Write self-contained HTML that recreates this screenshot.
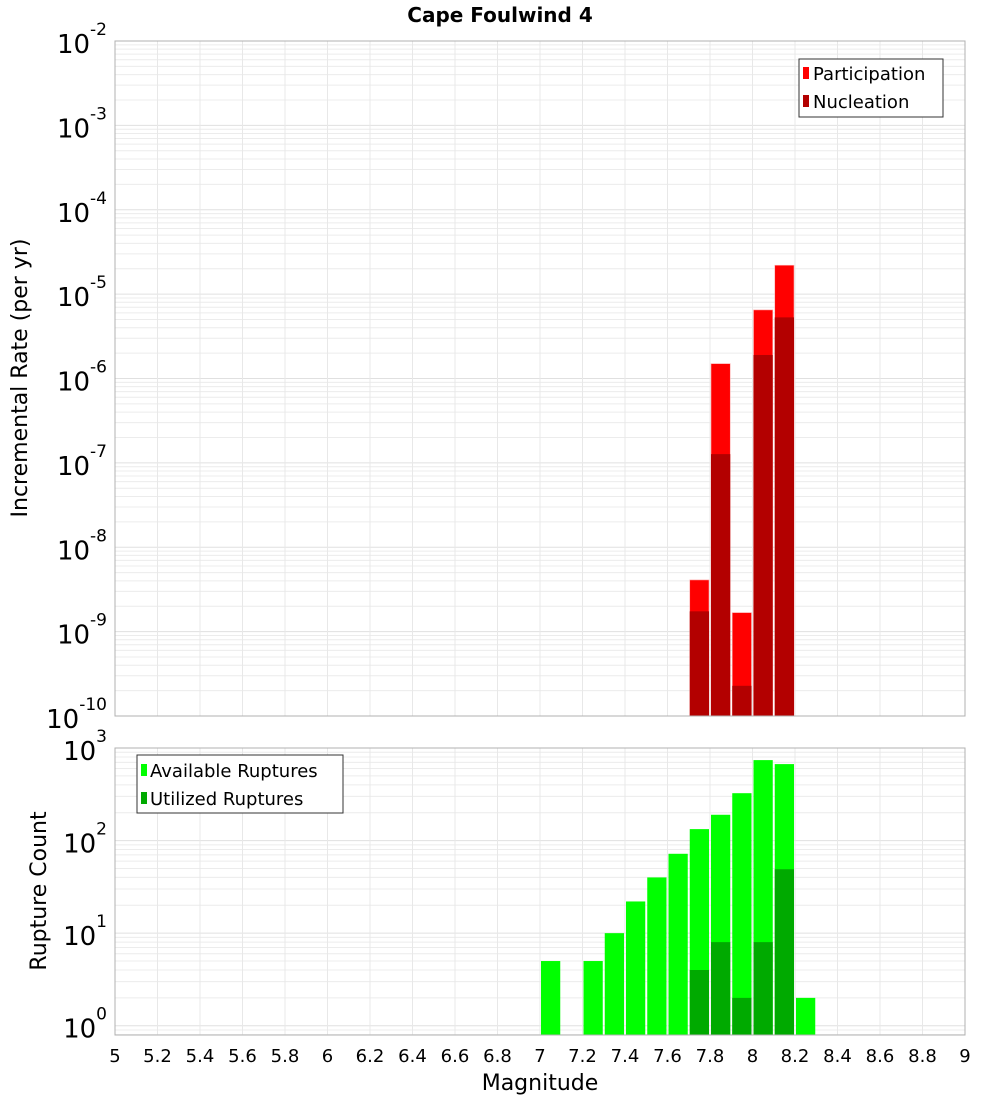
<!DOCTYPE html>
<html><head><meta charset="utf-8"><style>
body{margin:0;background:#fff;font-family:"DejaVu Sans","Liberation Sans",sans-serif;}
svg text{font-family:"DejaVu Sans","Liberation Sans",sans-serif;}
</style></head><body>
<svg id="chart" width="1000" height="1100" xmlns="http://www.w3.org/2000/svg">
<rect width="1000" height="1100" fill="#fff"/>
<text x="500" y="22" text-anchor="middle" font-weight="bold" font-size="20">Cape Foulwind 4</text>
<g id="top"></g><g id="bot"></g>
</svg>
<script>
const bins=[7.7,7.8,7.9,8.0,8.1];
const participation=[4.1e-9,1.5e-6,1.68e-9,6.5e-6,2.2e-5];
const nucleation=[1.74e-9,1.27e-7,2.28e-10,1.9e-6,5.3e-6];
const countBins=[7.0,7.2,7.3,7.4,7.5,7.6,7.7,7.8,7.9,8.0,8.1,8.2];
const available=[5,5,10,22,40,72,133,190,325,740,670,2];
const utilBins=[7.7,7.8,7.9,8.0,8.1];
const utilized=[4,8,2,8,49];
const xTicks=[5,5.2,5.4,5.6,5.8,6,6.2,6.4,6.6,6.8,7,7.2,7.4,7.6,7.8,8,8.2,8.4,8.6,8.8,9];
const topExp=[-10,-9,-8,-7,-6,-5,-4,-3,-2];
const botExp=[0,1,2,3];

const NS="http://www.w3.org/2000/svg";
const L=115,R=965;
const x=m=>L+(m-5)/4*(R-L);
function mk(p,t,a){const e=document.createElementNS(NS,t);for(const k in a)e.setAttribute(k,a[k]);p.appendChild(e);return e;}
function panel(g,top,bot,lmin,lmax,exps,name){
  const y=v=>bot-(Math.log10(v)-lmin)/(lmax-lmin)*(bot-top);
  for(let d=Math.floor(lmin);d<lmax;d++){for(let k=1;k<10;k++){const v=k*Math.pow(10,d);const lv=Math.log10(v);if(lv<lmin||lv>lmax)continue;
    const l=mk(g,'line',{x1:L,x2:R,y1:y(v),y2:y(v),stroke:k==1?'#e0e0e0':'#ececec','stroke-width':1});
    }}
  xTicks.forEach(t=>{const l=mk(g,'line',{x1:x(t),x2:x(t),y1:top,y2:bot,stroke:'#e8e8e8'});
    });
  exps.forEach(e=>{const t=mk(g,'text',{x:L-8,y:y(Math.pow(10,e))+12,'text-anchor':'end','font-size':26});
    
    t.textContent='10';const s=mk(t,'tspan',{dy:-18,'font-size':17});s.textContent=String(e);});
  return y;
}
const gt=document.getElementById('top'),gb=document.getElementById('bot');
const yT=panel(gt,41,716,-10,-2,topExp,'rate');
bins.forEach((m,i)=>{
  const r=mk(gt,'rect',{x:x(m)+1,width:x(m+0.1)-x(m)-2,y:yT(participation[i]),height:716-yT(participation[i]),fill:'#ff0000',stroke:'#ffb0b0','stroke-width':0.6});
  
  const n=mk(gt,'rect',{x:x(m)+1,width:x(m+0.1)-x(m)-2,y:yT(nucleation[i]),height:716-yT(nucleation[i]),fill:'#b30000'});
  
});
let f=mk(gt,'rect',{x:L,y:41,width:R-L,height:675,fill:'none',stroke:'#b0b0b0'});

const yB=panel(gb,748,1035,-0.1,3.0,botExp,'count');
countBins.forEach((m,i)=>{const r=mk(gb,'rect',{x:x(m)+1,width:x(m+0.1)-x(m)-2,y:yB(available[i]),height:1035-yB(available[i]),fill:'#00ff00'});
  });
utilBins.forEach((m,i)=>{const r=mk(gb,'rect',{x:x(m)+1,width:x(m+0.1)-x(m)-2,y:yB(utilized[i]),height:1035-yB(utilized[i]),fill:'#00aa00'});
  });
f=mk(gb,'rect',{x:L,y:748,width:R-L,height:287,fill:'none',stroke:'#b0b0b0'});

xTicks.forEach(t=>{const tx=mk(gb,'text',{x:x(t),y:1062,'text-anchor':'middle','font-size':18});
  tx.textContent=String(t);});
</script>
<svg style="position:absolute;left:0;top:0" width="1000" height="1100">
<text x="540" y="1090" text-anchor="middle" font-size="22">Magnitude</text>
<text transform="translate(27,378) rotate(-90)" text-anchor="middle" font-size="22">Incremental Rate (per yr)</text>
<text transform="translate(46,891) rotate(-90)" text-anchor="middle" font-size="22">Rupture Count</text>
<g>
<rect x="799" y="59" width="144" height="58" fill="#fff" stroke="#333"/>
<rect x="803" y="67" width="6" height="12" fill="#ff0000"/>
<text x="813" y="80" font-size="18">Participation</text>
<rect x="803" y="95" width="6" height="12" fill="#b30000"/>
<text x="813" y="108" font-size="18">Nucleation</text>
</g>
<g>
<rect x="137" y="755" width="206" height="58" fill="#fff" stroke="#333"/>
<rect x="141" y="764" width="6" height="12" fill="#00ff00"/>
<text x="150" y="777" font-size="18">Available Ruptures</text>
<rect x="141" y="792" width="6" height="12" fill="#00aa00"/>
<text x="150" y="805" font-size="18">Utilized Ruptures</text>
</g>
</svg>
<style>body{position:relative}</style>
</body></html>
